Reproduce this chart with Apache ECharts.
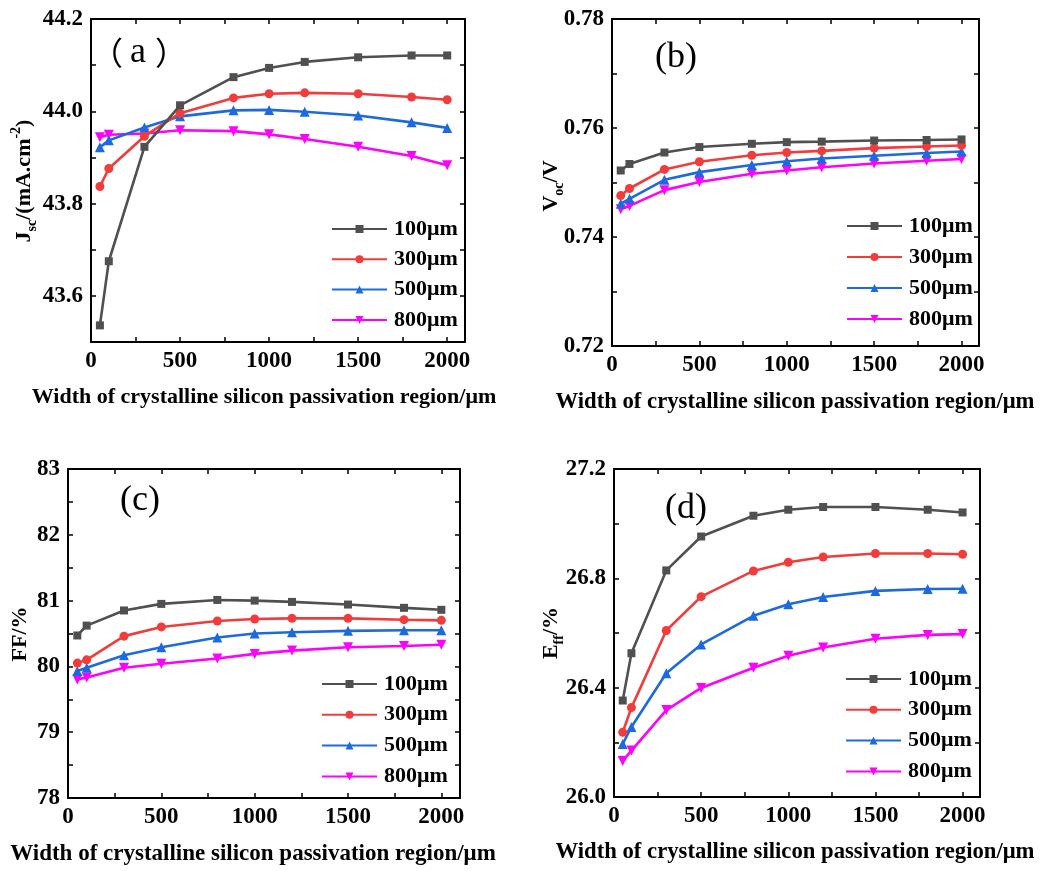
<!DOCTYPE html>
<html>
<head>
<meta charset="utf-8">
<script src="https://cdn.jsdelivr.net/npm/echarts@6/dist/echarts.min.js"></script>
<style>
  html, body { margin: 0; padding: 0; background: #ffffff; }
  #chart { width: 1057px; height: 871px; }
</style>
</head>
<body>
<div id="chart"></div>
<script>
// Widths of the crystalline silicon passivation region (μm)
const widths = [50, 100, 300, 500, 800, 1000, 1200, 1500, 1800, 2000];
const seriesNames = ['100μm', '300μm', '500μm', '800μm'];
const seriesColors = ['#505050', '#f23c3c', '#1d6ae0', '#ff00ff'];
const seriesSymbols = ['rect', 'circle', 'triangle', 'triangle'];
const seriesSymbolRotate = [0, 0, 0, 180];
const seriesSymbolSize = [8, 9, 10, 10];

// (a) Jsc, mA/cm2
const jsc100 = [43.536, 43.675, 43.923, 44.013, 44.074, 44.094, 44.107, 44.117, 44.121, 44.121];
const jsc300 = [43.837, 43.876, 43.946, 43.996, 44.029, 44.038, 44.040, 44.038, 44.031, 44.025];
const jsc500 = [43.922, 43.937, 43.965, 43.989, 44.002, 44.003, 43.999, 43.991, 43.976, 43.964];
const jsc800 = [43.944, 43.949, 43.952, 43.959, 43.957, 43.950, 43.940, 43.923, 43.903, 43.883];

// (b) Voc, V
const voc100 = [0.7522, 0.7534, 0.7555, 0.7565, 0.7571, 0.7574, 0.7575, 0.7577, 0.7578, 0.7579];
const voc300 = [0.7476, 0.7489, 0.7524, 0.7538, 0.7550, 0.7555, 0.7558, 0.7563, 0.7566, 0.7568];
const voc500 = [0.7461, 0.7470, 0.7505, 0.7519, 0.7532, 0.7539, 0.7544, 0.7549, 0.7554, 0.7557];
const voc800 = [0.7451, 0.7457, 0.7486, 0.7501, 0.7516, 0.7522, 0.7528, 0.7535, 0.7540, 0.7543];

// (c) FF, %
const ff100 = [80.47, 80.62, 80.85, 80.95, 81.01, 81.00, 80.98, 80.94, 80.89, 80.86];
const ff300 = [80.05, 80.10, 80.46, 80.60, 80.69, 80.72, 80.73, 80.73, 80.71, 80.70];
const ff500 = [79.93, 79.98, 80.17, 80.29, 80.44, 80.50, 80.52, 80.54, 80.55, 80.55];
const ff800 = [79.80, 79.83, 79.98, 80.04, 80.12, 80.19, 80.24, 80.29, 80.31, 80.33];

// (d) Eff, %
const eff100 = [26.353, 26.526, 26.829, 26.953, 27.029, 27.051, 27.061, 27.061, 27.051, 27.041];
const eff300 = [26.237, 26.327, 26.609, 26.733, 26.827, 26.859, 26.878, 26.891, 26.891, 26.888];
const eff500 = [26.194, 26.256, 26.453, 26.558, 26.663, 26.705, 26.732, 26.754, 26.761, 26.762];
const eff800 = [26.132, 26.170, 26.318, 26.399, 26.473, 26.517, 26.547, 26.579, 26.593, 26.596];

const panelData = [
  [jsc100, jsc300, jsc500, jsc800],
  [voc100, voc300, voc500, voc800],
  [ff100, ff300, ff500, ff800],
  [eff100, eff300, eff500, eff800]
];

// y-axis ranges: [min, max, tick step, labelled step, decimals]
const yRanges = [
  [43.5, 44.2, 0.1, 0.2, 1],
  [0.72, 0.78, 0.01, 0.02, 2],
  [78, 83, 0.5, 1, 0],
  [26.0, 27.2, 0.2, 0.4, 1]
];
const xRange = [0, 2100, 250, 500];

const xTitle = 'Width of crystalline silicon passivation region/μm';
const panelLabels = ['{c|（}{g|a}{c|）}', '{t|(b)}', '{t|(c)}', '{t|(d)}'];

const FONT = '"Liberation Serif", "Times New Roman", serif';
const CJK = '"Noto Sans CJK SC", "Liberation Serif", serif';

// plot-area boxes
const grids = [
  { left: 91, top: 19, width: 374, height: 323 },
  { left: 612, top: 19, width: 367, height: 327 },
  { left: 68, top: 469, width: 392, height: 329 },
  { left: 614, top: 469, width: 366, height: 328 }
];

const legendPos = [
  { left: 331, top: 218, itemGap: 8.3 },
  { left: 846, top: 215, itemGap: 9 },
  { left: 321, top: 673, itemGap: 8.8 },
  { left: 845, top: 668, itemGap: 8.8 }
];

function isMultiple(v, step) {
  const r = v / step;
  return Math.abs(r - Math.round(r)) < 1e-6;
}
function labelFormatter(step, digits) {
  return function (v) {
    return isMultiple(v, step) ? Number(v).toFixed(digits) : '';
  };
}

const tickStyle = { show: true, inside: true, length: 5, lineStyle: { color: '#000', width: 1.5 } };
const lineAxis = { show: true, onZero: false, lineStyle: { color: '#000', width: 2 } };
const labelFont = { fontFamily: FONT, fontWeight: 'bold', fontSize: 23, color: '#000' };

const xAxes = [];
const yAxes = [];
const series = [];
const legends = [];

grids.forEach(function (g, i) {
  const yr = yRanges[i];
  xAxes.push({
    type: 'value', gridIndex: i, position: 'bottom',
    min: xRange[0], max: xRange[1], interval: xRange[2],
    axisLine: lineAxis, axisTick: tickStyle, splitLine: { show: false },
    axisLabel: Object.assign({ margin: 8, formatter: labelFormatter(xRange[3], 0) }, labelFont)
  });
  yAxes.push({
    type: 'value', gridIndex: i, position: 'left',
    min: yr[0], max: yr[1], interval: yr[2],
    axisLine: lineAxis, axisTick: tickStyle, splitLine: { show: false },
    axisLabel: Object.assign({ margin: 8, formatter: labelFormatter(yr[3], yr[4]) }, labelFont)
  });
});
// mirrored top / right axes carrying inward ticks only
grids.forEach(function (g, i) {
  const yr = yRanges[i];
  xAxes.push({
    type: 'value', gridIndex: i, position: 'top',
    min: xRange[0], max: xRange[1], interval: xRange[2],
    axisLine: lineAxis, axisTick: tickStyle, splitLine: { show: false },
    axisLabel: { show: false }
  });
  yAxes.push({
    type: 'value', gridIndex: i, position: 'right',
    min: yr[0], max: yr[1], interval: yr[2],
    axisLine: lineAxis, axisTick: tickStyle, splitLine: { show: false },
    axisLabel: { show: false }
  });
});

panelData.forEach(function (sets, i) {
  sets.forEach(function (vals, k) {
    series.push({
      type: 'line',
      name: seriesNames[k],
      xAxisIndex: i, yAxisIndex: i,
      data: widths.map(function (w, j) { return [w, vals[j]]; }),
      symbol: seriesSymbols[k],
      symbolRotate: seriesSymbolRotate[k],
      symbolSize: seriesSymbolSize[k],
      showAllSymbol: true,
      lineStyle: { color: seriesColors[k], width: 2.6 },
      itemStyle: { color: seriesColors[k] },
      emphasis: { disabled: true },
      z: 3 + (3 - k)
    });
  });
  const lp = legendPos[i];
  legends.push({
    data: seriesNames,
    orient: 'vertical',
    left: lp.left, top: lp.top,
    itemGap: lp.itemGap,
    itemWidth: 55, itemHeight: 10,
    padding: 0,
    selectedMode: false,
    textStyle: { fontFamily: FONT, fontWeight: 'bold', fontSize: 22, lineHeight: 22, color: '#000', padding: [0, 0, 0, 2] }
  });
});

// axis titles and panel tags
const richY = {
  m: { fontFamily: FONT, fontWeight: 'bold', fontSize: 22, lineHeight: 30, verticalAlign: 'middle', fill: '#000' },
  s: { fontFamily: FONT, fontWeight: 'bold', fontSize: 14, lineHeight: 14, verticalAlign: 'bottom', fill: '#000' },
  p: { fontFamily: FONT, fontWeight: 'bold', fontSize: 14, lineHeight: 14, verticalAlign: 'top', fill: '#000' }
};
const richTag = {
  c: { fontFamily: CJK, fontSize: 32, fill: '#000' },
  g: { fontFamily: FONT, fontSize: 36, fill: '#000', padding: [0, 9, 0, 7] },
  t: { fontFamily: FONT, fontSize: 36, fill: '#000' }
};
const yTitles = [
  { text: '{m|J}{s|sc}{m|/(mA.cm}{p|-2}{m|)}', x: 24, y: 181 },
  { text: '{m|V}{s|oc}{m|/V}', x: 551, y: 186 },
  { text: '{m|FF/%}', x: 20, y: 634 },
  { text: '{m|E}{s|ff}{m|/%}', x: 551, y: 633 }
];
const xTitles = [
  { x: 264, y: 397, size: 22 }, { x: 795, y: 402, size: 22.7 },
  { x: 253, y: 854, size: 23 }, { x: 795, y: 852, size: 22.7 }
];
const tagPos = [
  { x: 139, y: 53 }, { x: 676, y: 58 }, { x: 140, y: 501 }, { x: 686, y: 509 }
];

const graphics = [];
yTitles.forEach(function (t) {
  graphics.push({
    type: 'text', x: t.x, y: t.y, rotation: Math.PI / 2,
    style: { text: t.text, rich: richY, align: 'center', verticalAlign: 'middle' }
  });
});
xTitles.forEach(function (t) {
  graphics.push({
    type: 'text', x: t.x, y: t.y,
    style: { text: xTitle, fontFamily: FONT, fontWeight: 'bold', fontSize: t.size, fill: '#000', align: 'center', verticalAlign: 'middle' }
  });
});
tagPos.forEach(function (t, i) {
  graphics.push({
    type: 'text', x: t.x, y: t.y,
    style: { text: panelLabels[i], rich: richTag, align: 'center', verticalAlign: 'middle' }
  });
});

const chart = echarts.init(document.getElementById('chart'), null, { renderer: 'canvas' });
chart.setOption({
  backgroundColor: '#ffffff',
  animation: false,
  grid: grids.map(function (g) { return Object.assign({ outerBoundsMode: 'none', show: false }, g); }),
  xAxis: xAxes,
  yAxis: yAxes,
  legend: legends,
  series: series,
  graphic: graphics
});
</script>
</body>
</html>
